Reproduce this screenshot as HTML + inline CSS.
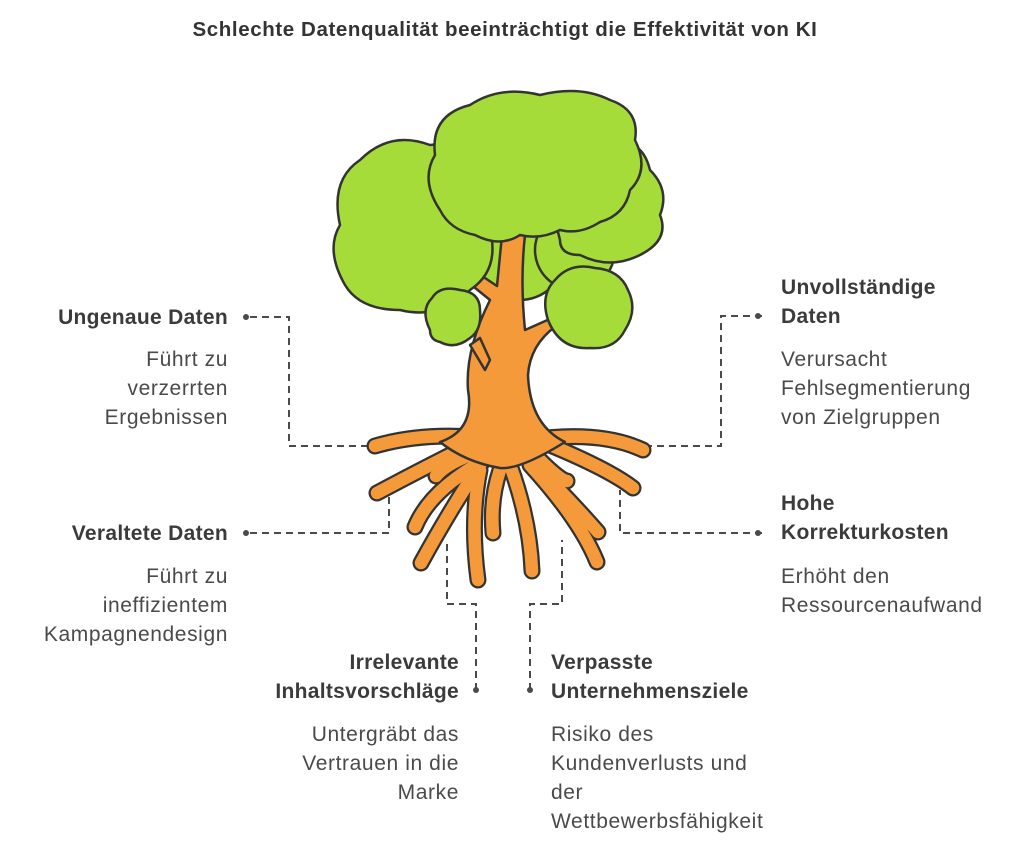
<!DOCTYPE html>
<html><head><meta charset="utf-8"><style>
html,body{margin:0;padding:0;background:#fff;}
svg{display:block}
text{font-family:"Liberation Sans",sans-serif;}
.h{font-weight:bold;font-size:21px;letter-spacing:0.3px;fill:#3b3b3b}
.b{font-size:21px;letter-spacing:0.6px;fill:#4a4a4a}
.d{stroke:#4a4a4a;stroke-width:2;stroke-dasharray:7,5;fill:none}
</style></head><body>
<svg width="1024" height="851" viewBox="0 0 1024 851">
<text x="505" y="36" text-anchor="middle" font-weight="bold" font-size="20.5" letter-spacing="0.6" fill="#333">Schlechte Datenqualität beeinträchtigt die Effektivität von KI</text>

<!-- connectors -->
<g class="d">
<path d="M250 317 H289 V446 H370"/>
<path d="M762 316 H721 V446 H645"/>
<path d="M250 533 H389 V495"/>
<path d="M762 533 H620 V490"/>
<path d="M476 690 V604 H447 V540"/>
<path d="M530 690 V604 H562 V540"/>
</g>
<g fill="#4a4a4a"><circle cx="246" cy="317" r="3"/><circle cx="758" cy="316" r="3"/><circle cx="246" cy="533" r="3"/><circle cx="758" cy="533" r="3"/><circle cx="476" cy="690" r="3"/><circle cx="530" cy="690" r="3"/></g>

<!-- roots -->
<g fill="none" stroke-linecap="round">
<g stroke="#333" stroke-width="17">
<path d="M500 440 Q430 430 375 446"/><path d="M470 445 Q420 470 377 493"/>
<path d="M470 455 Q445 465 436 476"/><path d="M485 460 Q430 490 415 527"/>
<path d="M480 465 Q450 510 421 563"/><path d="M480 470 Q470 520 478 580"/>
<path d="M500 470 Q490 500 493 533"/><path d="M510 465 Q530 520 532 571"/>
<path d="M530 460 Q570 500 598 532"/><path d="M530 465 Q580 520 597 562"/>
<path d="M540 460 Q560 480 567 481"/><path d="M550 445 Q610 470 633 488"/>
<path d="M530 440 Q600 430 643 450"/>
</g>
<g stroke="#f49a3b" stroke-width="12.5">
<path d="M500 440 Q430 430 375 446"/><path d="M470 445 Q420 470 377 493"/>
<path d="M470 455 Q445 465 436 476"/><path d="M485 460 Q430 490 415 527"/>
<path d="M480 465 Q450 510 421 563"/><path d="M480 470 Q470 520 478 580"/>
<path d="M500 470 Q490 500 493 533"/><path d="M510 465 Q530 520 532 571"/>
<path d="M530 460 Q570 500 598 532"/><path d="M530 465 Q580 520 597 562"/>
<path d="M540 460 Q560 480 567 481"/><path d="M550 445 Q610 470 633 488"/>
<path d="M530 440 Q600 430 643 450"/>
</g>
</g>
<!-- canopy back -->
<g fill="#a5dc3a" stroke="#333" stroke-width="2.5">
<circle cx="520" cy="255" r="45"/><circle cx="575" cy="250" r="40"/>
<path d="M560 240 Q540 170 600 150 Q640 130 650 170 Q670 190 660 215 Q670 240 640 255 Q610 270 580 255 Q560 255 560 240Z"/>
</g>
<!-- trunk + branches -->
<g fill="#f49a3b" stroke="#333" stroke-width="2.5" stroke-linejoin="round">
<path d="M440 442 Q475 430 468 390 Q465 350 490 300 L448 266 L458 260 L497 286 L502 235 L525 235 Q520 280 525 330 L552 318 L556 326 Q530 345 528 375 Q530 425 565 442 Q520 470 500 468 Q465 462 440 442 Z"/>
<path d="M470 345 L480 338 L490 360 L485 370 Z"/>
</g>
<g fill="#a5dc3a" stroke="#333" stroke-width="2.5">
<path d="M345 285 Q325 250 340 225 Q330 180 360 160 Q390 130 430 145 Q470 140 480 175 Q500 200 490 230 Q500 270 470 290 Q440 320 400 310 Q360 310 345 285Z"/>
<path d="M440 210 Q420 180 435 155 Q430 115 470 105 Q500 85 540 95 Q580 85 610 100 Q640 110 635 140 Q650 170 630 190 Q625 215 600 222 Q580 235 560 230 Q540 240 520 235 Q500 248 475 235 Q450 230 440 210Z"/>
<path d="M430 330 Q420 310 432 298 Q440 285 460 290 Q480 292 480 310 Q482 330 470 338 Q455 350 440 342 Q430 340 430 330Z"/>
<path d="M548 320 Q540 295 555 280 Q570 262 595 268 Q620 270 628 290 Q638 310 625 330 Q615 350 590 348 Q560 350 548 320Z"/>
</g>

<!-- labels -->
<text class="h" x="228" y="324" text-anchor="end">Ungenaue Daten</text>
<g class="b" text-anchor="end"><text x="228" y="366">Führt zu</text><text x="228" y="395">verzerrten</text><text x="228" y="424">Ergebnissen</text></g>

<text class="h" x="781" y="294">Unvollständige</text><text class="h" x="781" y="323">Daten</text>
<g class="b"><text x="781" y="366">Verursacht</text><text x="781" y="395">Fehlsegmentierung</text><text x="781" y="424">von Zielgruppen</text></g>

<text class="h" x="228" y="540" text-anchor="end">Veraltete Daten</text>
<g class="b" text-anchor="end"><text x="228" y="583">Führt zu</text><text x="228" y="612">ineffizientem</text><text x="228" y="641">Kampagnendesign</text></g>

<text class="h" x="781" y="510">Hohe</text><text class="h" x="781" y="539">Korrekturkosten</text>
<g class="b"><text x="781" y="583">Erhöht den</text><text x="781" y="612">Ressourcenaufwand</text></g>

<g class="h" text-anchor="end"><text x="459" y="669">Irrelevante</text><text x="459" y="698">Inhaltsvorschläge</text></g>
<g class="b" text-anchor="end"><text x="459" y="741">Untergräbt das</text><text x="459" y="770">Vertrauen in die</text><text x="459" y="799">Marke</text></g>

<g class="h"><text x="551" y="669">Verpasste</text><text x="551" y="698">Unternehmensziele</text></g>
<g class="b"><text x="551" y="741">Risiko des</text><text x="551" y="770">Kundenverlusts und</text><text x="551" y="799">der</text><text x="551" y="828">Wettbewerbsfähigkeit</text></g>
</svg>
</body></html>
